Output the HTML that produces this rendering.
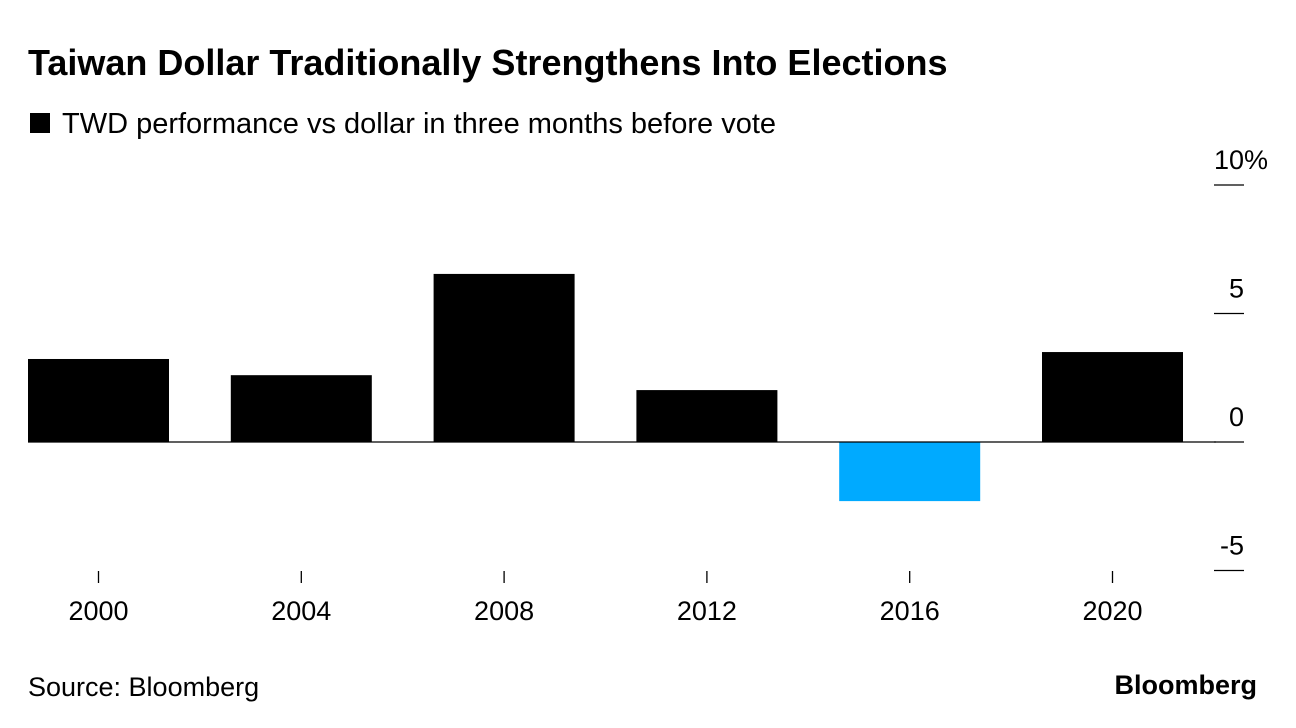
<!DOCTYPE html>
<html><head><meta charset="utf-8"><style>
body{margin:0;background:#fff;width:1296px;height:728px;overflow:hidden;font-family:"Liberation Sans",sans-serif;}
</style></head><body>
<svg width="1296" height="728" style="position:absolute;left:0;top:0;font-family:'Liberation Sans',sans-serif">
<text x="28" y="75" font-size="36" font-weight="bold" fill="#000">Taiwan Dollar Traditionally Strengthens Into Elections</text>
<rect x="30" y="113" width="20" height="20" fill="#000"/>
<text x="62" y="133" font-size="29" fill="#000">TWD performance vs dollar in three months before vote</text>
<g id="plot"></g>
<text x="28" y="696" font-size="27" fill="#000">Source: Bloomberg</text>
<text x="1257" y="694" font-size="27" font-weight="bold" text-anchor="end" fill="#000">Bloomberg</text>
</svg>
<script>
const categories=["2000","2004","2008","2012","2016","2020"];
const values=[3.23,2.6,6.54,2.02,-2.3,3.5];
const yTicks=[10,5,0,-5];
const yTickLabels=["10%","5","0","-5"];
const ns="http://www.w3.org/2000/svg";
const g=document.getElementById("plot");
const y=v=>442-v*25.7;
const step=202.8, x0=28, bw=141;
function mk(t,a){const e=document.createElementNS(ns,t);for(const k in a)e.setAttribute(k,a[k]);g.appendChild(e);return e;}
yTicks.forEach((t,i)=>{
  const l=mk("line",{x1:1214,x2:1244,y1:y(t),y2:y(t),stroke:"#000","stroke-width":1.3});
  
  
  const tx=mk("text",{x:i==0?1268:1244,y:y(t)-16,"font-size":27,"text-anchor":"end",fill:"#000"});
  tx.textContent=yTickLabels[i];
  
  
});
categories.forEach((c,i)=>{
  const v=values[i], bx=x0+i*step;
  const r=mk("rect",{x:bx,y:Math.min(y(v),y(0)),width:bw,height:Math.abs(y(v)-y(0)),fill:v<0?"#00aaff":"#000"});
  
  
  const cx=bx+bw/2;
  const tk=mk("line",{x1:cx,x2:cx,y1:571,y2:583,stroke:"#000","stroke-width":1.3});
  
  
  const t=mk("text",{x:cx,y:620,"font-size":27,"text-anchor":"middle",fill:"#000"});
  t.textContent=c;
  
  
});
const z=mk("line",{x1:28,x2:1216,y1:y(0),y2:y(0),stroke:"#000","stroke-width":1.3});


</script>
</body></html>
